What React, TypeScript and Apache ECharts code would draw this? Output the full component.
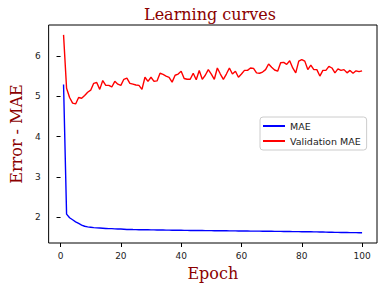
import React, { useEffect, useRef } from "react";
import * as echarts from "echarts";

const epochs: number[] = Array.from({ length: 100 }, (_, i) => i + 1);

const mae: number[] = [
  5.29, 2.08, 1.99, 1.94, 1.89, 1.85, 1.81, 1.78, 1.765, 1.755,
  1.745, 1.74, 1.735, 1.73, 1.725, 1.72, 1.72, 1.715, 1.71, 1.71,
  1.705, 1.7, 1.7, 1.698, 1.697, 1.695, 1.694, 1.693, 1.692, 1.69,
  1.69, 1.688, 1.687, 1.686, 1.684, 1.683, 1.682, 1.68, 1.68, 1.679,
  1.678, 1.677, 1.676, 1.676, 1.675, 1.674, 1.673, 1.672, 1.672, 1.671,
  1.67, 1.669, 1.668, 1.668, 1.667, 1.666, 1.665, 1.665, 1.664, 1.663,
  1.662, 1.661, 1.66, 1.66, 1.659, 1.658, 1.657, 1.656, 1.656, 1.655,
  1.654, 1.653, 1.652, 1.651, 1.65, 1.649, 1.648, 1.647, 1.646, 1.645,
  1.644, 1.643, 1.642, 1.641, 1.64, 1.638, 1.636, 1.634, 1.632, 1.63,
  1.628, 1.627, 1.626, 1.625, 1.624, 1.623, 1.622, 1.621, 1.62, 1.62,
];

const valMae: number[] = [
  6.52, 5.2, 4.97, 4.83, 4.81, 4.97, 4.95, 5.02, 5.1, 5.15,
  5.32, 5.34, 5.17, 5.39, 5.27, 5.27, 5.23, 5.37, 5.3, 5.27,
  5.42, 5.45, 5.32, 5.3, 5.28, 5.27, 5.17, 5.47, 5.37, 5.47,
  5.37, 5.38, 5.57, 5.54, 5.5, 5.47, 5.35, 5.52, 5.55, 5.62,
  5.44, 5.42, 5.42, 5.57, 5.41, 5.64, 5.42, 5.52, 5.66, 5.55,
  5.42, 5.7, 5.55, 5.42, 5.55, 5.7, 5.55, 5.62, 5.47, 5.55,
  5.64, 5.64, 5.7, 5.69, 5.58, 5.57, 5.6, 5.66, 5.8, 5.72,
  5.65, 5.62, 5.83, 5.84, 5.79, 5.88, 5.7, 5.58, 5.87, 5.91,
  5.87, 5.66, 5.77, 5.66, 5.66, 5.5, 5.64, 5.64, 5.74, 5.7,
  5.58, 5.68, 5.64, 5.66, 5.58, 5.64, 5.57, 5.63, 5.61, 5.63,
];

const xTicks: number[] = [0, 20, 40, 60, 80, 100];
const yTicks: number[] = [2, 3, 4, 5, 6];

const DARKRED = "#8B0000";

export default function App() {
  const ref = useRef<HTMLDivElement>(null);
  useEffect(() => {
    if (!ref.current) return;
    const chart = echarts.init(ref.current, undefined, { renderer: "svg" });
    const tickLabel = { fontFamily: "DejaVu Sans", fontSize: 9, color: "#222" };
    chart.setOption({
      animation: false,
      backgroundColor: "#ffffff",
      title: {
        text: "Learning curves",
        left: 210,
        top: 6,
        padding: 0,
        textAlign: "center",
        textStyle: { fontFamily: "DejaVu Serif", fontSize: 16, fontWeight: "normal", color: DARKRED },
      },
      grid: {
        left: 43,
        top: 25,
        width: 334,
        height: 218,
        show: true,
        borderColor: "#000",
        borderWidth: 1,
        backgroundColor: "transparent",
      },
      legend: {
        data: ["MAE", "Validation MAE"],
        orient: "vertical",
        left: 260,
        top: 117,
        padding: [4, 6, 4, 3],
        itemGap: 5,
        itemWidth: 22,
        itemHeight: 2,
        icon: "rect",
        backgroundColor: "rgba(255,255,255,0.8)",
        borderColor: "#ccc",
        borderWidth: 1,
        borderRadius: 3,
        textStyle: { fontFamily: "DejaVu Sans", fontSize: 9.5, color: "#222", lineHeight: 10 },
      },
      xAxis: {
        type: "value",
        min: -3.95,
        max: 104.95,
        name: "Epoch",
        nameLocation: "middle",
        nameGap: 22,
        nameTextStyle: { fontFamily: "DejaVu Serif", fontSize: 16, color: DARKRED },
        axisLine: { show: false },
        axisTick: { show: true, length: 4, inside: false, customValues: xTicks, lineStyle: { color: "#000" } },
        axisLabel: { ...tickLabel, margin: 8, customValues: xTicks },
        splitLine: { show: false },
      },
      yAxis: {
        type: "value",
        min: 1.365,
        max: 6.765,
        name: "Error - MAE",
        nameLocation: "middle",
        nameGap: 21,
        nameRotate: 90,
        nameTextStyle: { fontFamily: "DejaVu Serif", fontSize: 16, color: DARKRED },
        axisLine: { show: false },
        axisTick: { show: true, length: 4, inside: false, customValues: yTicks, lineStyle: { color: "#000" } },
        axisLabel: { ...tickLabel, margin: 8, customValues: yTicks },
        splitLine: { show: false },
      },
      series: [
        {
          name: "MAE",
          type: "line",
          data: epochs.map((e, i) => [e, mae[i]]),
          showSymbol: false,
          color: "#0000ff",
          lineStyle: { color: "#0000ff", width: 1.4 },
        },
        {
          name: "Validation MAE",
          type: "line",
          data: epochs.map((e, i) => [e, valMae[i]]),
          showSymbol: false,
          color: "#ff0000",
          lineStyle: { color: "#ff0000", width: 1.4 },
        },
      ],
    });
    return () => chart.dispose();
  }, []);
  return (
    <div
      ref={ref}
      style={{ position: "fixed", left: 0, top: 0, width: 383, height: 288, background: "#fff" }}
    />
  );
}
